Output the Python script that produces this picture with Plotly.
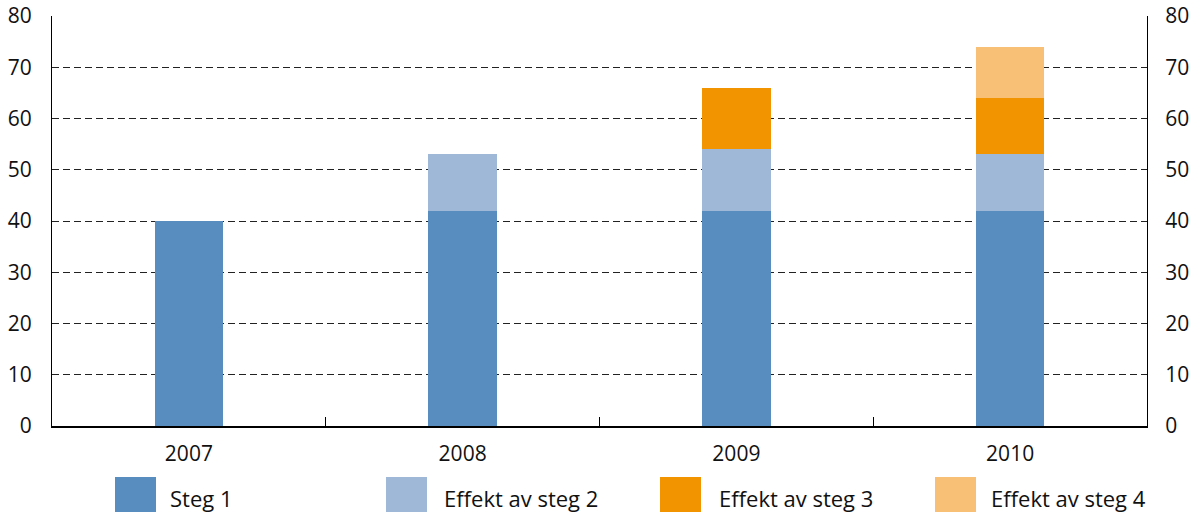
import plotly.graph_objects as go

years = ["2007", "2008", "2009", "2010"]
series_names = ["Steg 1", "Effekt av steg 2", "Effekt av steg 3", "Effekt av steg 4"]
steg1 = [40, 42, 42, 42]
steg2 = [None, 11, 12, 11]
steg3 = [None, None, 12, 11]
steg4 = [None, None, None, 10]
colors = ["#588dc0", "#a0b8d8", "#f29400", "#f8c077"]
y_ticks = [0, 10, 20, 30, 40, 50, 60, 70, 80]

W, H = 1190, 512
L, T = 52, 16
PW, PH = 1095, 410
R = W - L - PW
B = H - T - PH
FONT = "Open Sans"
TXT = "#111111"

fig = go.Figure()
for name, vals, col in zip(series_names, [steg1, steg2, steg3, steg4], colors):
    fig.add_trace(go.Bar(x=years, y=vals, name=name, marker=dict(color=col, line=dict(width=0)),
                         showlegend=False, hoverinfo="x+y+name"))

# invisible trace to drive right axis
fig.add_trace(go.Scatter(x=years, y=[None] * 4, yaxis="y2", showlegend=False, hoverinfo="skip"))

fig.update_layout(
    width=W, height=H,
    margin=dict(l=L, r=R, t=T, b=B, pad=0, autoexpand=False),
    paper_bgcolor="white", plot_bgcolor="white",
    barmode="stack", bargap=0.749,
    font=dict(family=FONT, size=20, color=TXT),
    xaxis=dict(
        type="category", range=[-0.5, 3.5], automargin=False,
        showline=True, linecolor="#000000", linewidth=1.5,
        ticks="inside", tickson="boundaries", ticklen=9, tickcolor="#000000", tickwidth=1,
        showgrid=False, ticklabelstandoff=8,
        tickfont=dict(family=FONT, size=21, color=TXT),
    ),
    yaxis=dict(
        range=[0, 80], tickvals=y_ticks, showline=True, linecolor="#000000", linewidth=1.2,
        automargin=False, ticklabeloverflow="allow",
        showgrid=True, gridcolor="#222222", gridwidth=1, griddash="7px,4px",
        zeroline=False, ticks="outside", ticklen=15, tickcolor="rgba(0,0,0,0)",
        tickfont=dict(family=FONT, size=21, color=TXT),
    ),
    yaxis2=dict(
        range=[0, 80], tickvals=y_ticks, overlaying="y", side="right", automargin=False,
        ticklabeloverflow="allow",
        showline=True, linecolor="#000000", linewidth=1.2, showgrid=False, zeroline=False,
        ticks="outside", ticklen=13, tickcolor="rgba(0,0,0,0)",
        tickfont=dict(family=FONT, size=21, color=TXT),
    ),
)

# custom legend (large swatches, as in the reference); positions in window pixels
sw_x = [115, 386, 660, 935]
tx_x = [168, 442, 717, 989]
sw_w, sw_top, sw_bot, txt_y = 41, 477, 516, 498

def px(x):
    return (x - L) / PW

def py(y):
    return (T + PH - y) / PH

for name, col, sx, tx in zip(series_names, colors, sw_x, tx_x):
    fig.add_shape(type="rect", xref="paper", yref="paper",
                  x0=px(sx), x1=px(sx + sw_w), y0=py(sw_bot), y1=py(sw_top),
                  fillcolor=col, line=dict(width=0), layer="above")
    fig.add_annotation(xref="paper", yref="paper", x=px(tx), y=py(txt_y),
                       xanchor="left", yanchor="middle", text=name, showarrow=False,
                       font=dict(family=FONT, size=22, color=TXT))

fig.write_html(
    "out.html",
    config={"displayModeBar": False},
    post_script="document.body.style.margin='0';document.body.style.overflow='hidden';",
)
